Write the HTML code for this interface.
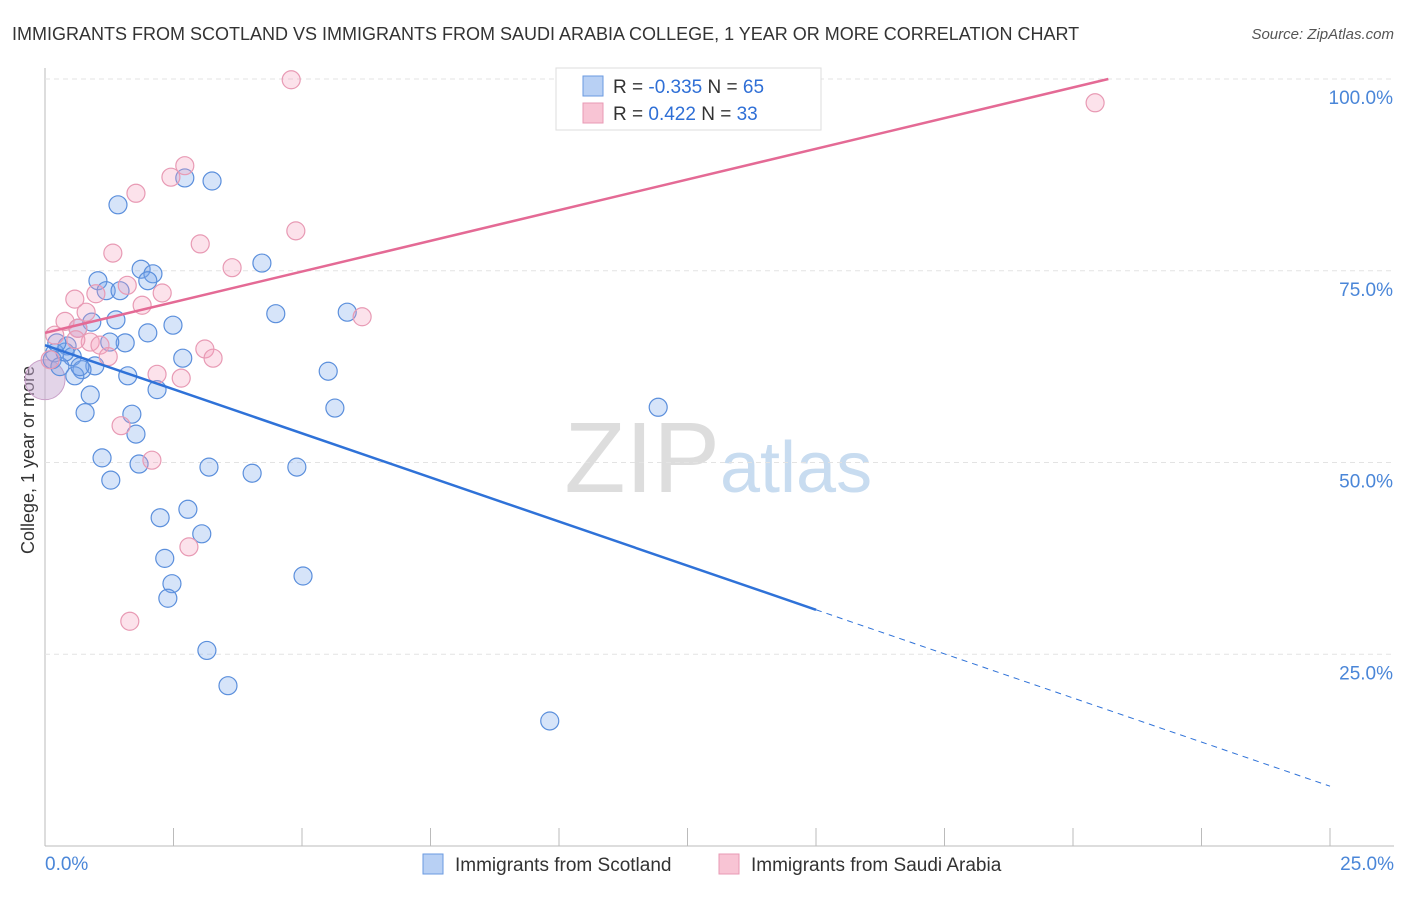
<!DOCTYPE html>
<html><head><meta charset="utf-8"><style>
body{margin:0;background:#fff;font-family:"Liberation Sans",sans-serif;}
svg text{font-family:"Liberation Sans",sans-serif;}
</style></head><body>
<svg id="c" width="1406" height="892">
<text x="12" y="40" font-size="18" fill="#333">IMMIGRANTS FROM SCOTLAND VS IMMIGRANTS FROM SAUDI ARABIA COLLEGE, 1 YEAR OR MORE CORRELATION CHART</text>
<text x="1394" y="39" font-size="15" fill="#555" font-style="italic" text-anchor="end">Source: ZipAtlas.com</text>
<text x="720" y="492" font-size="100" fill="#ddd" text-anchor="end" font-family="Liberation Serif">ZIP</text>
<text x="720" y="492" font-size="72" fill="#c8dcf0">atlas</text>
<text x="34" y="460" font-size="18" fill="#333" text-anchor="middle" transform="rotate(-90 34 460)">College, 1 year or more</text>
<g id="grid"></g><g id="pts"></g><g id="lines"></g>
<g>
<rect x="556" y="68" width="265" height="62" fill="#fff" stroke="#ddd"/>
<rect x="583" y="76" width="20" height="20" fill="#b8d0f4" stroke="#6a9ae0"/>
<rect x="583" y="103" width="20" height="20" fill="#f8c4d4" stroke="#e89ab4"/>
<text x="613" y="93" font-size="19" fill="#333">R = <tspan fill="#2f6fd6">-0.335</tspan>   N = <tspan fill="#2f6fd6">65</tspan></text>
<text x="613" y="120" font-size="19" fill="#333">R =  <tspan fill="#2f6fd6"> 0.422</tspan>   N = <tspan fill="#2f6fd6">33</tspan></text>
</g>
<g>
<rect x="423" y="854" width="20" height="20" fill="#b8d0f4" stroke="#6a9ae0"/>
<text x="455" y="871" font-size="19" fill="#333">Immigrants from Scotland</text>
<rect x="719" y="854" width="20" height="20" fill="#f8c4d4" stroke="#e89ab4"/>
<text x="751" y="871" font-size="19" fill="#333">Immigrants from Saudi Arabia</text>
</g>
</svg>
<script>
const xTicks=[0,2.5,5,7.5,10,12.5,15,17.5,20,22.5,25];
const yTicks=[25,50,75,100];
const yTickLabels=["25.0%","50.0%","75.0%","100.0%"];
const xTickLabels=["0.0%","25.0%"];
const scotX=[1.42,2.72,3.25,4.22,1.87,2.10,2.00,1.03,1.19,1.46,4.49,5.88,2.49,1.38,0.91,2.00,0.64,1.56,1.26,0.43,0.19,0.53,2.68,0.97,0.72,1.61,0.58,5.51,2.18,0.88,1.69,0.78,5.64,11.93,1.77,1.11,1.83,3.19,4.90,4.03,1.28,2.78,2.24,3.05,2.33,2.47,5.02,2.39,3.15,3.56,9.82,0.14,0.29,0.39,0.68,0.23];
const scotY=[83.6,87.1,86.7,76.0,75.2,74.6,73.7,73.7,72.4,72.4,69.4,69.6,67.9,68.6,68.3,66.9,67.5,65.6,65.7,65.2,64.3,63.8,63.6,62.6,62.1,61.3,61.3,61.9,59.5,58.8,56.3,56.5,57.1,57.2,53.7,50.6,49.8,49.4,49.4,48.6,47.7,43.9,42.8,40.7,37.5,34.2,35.2,32.3,25.5,20.9,16.3,63.4,62.5,64.4,62.5,65.6];
const saudiX=[4.79,20.43,2.72,2.45,1.77,4.88,3.02,1.32,3.64,1.60,2.28,0.58,0.99,1.89,0.80,6.17,0.39,0.64,0.19,0.88,1.07,1.23,3.11,3.27,2.18,2.65,1.48,2.08,2.80,1.65,0.10,0.60];
const saudiY=[99.9,96.9,88.7,87.2,85.1,80.2,78.5,77.3,75.4,73.1,72.1,71.3,72.0,70.5,69.6,69.0,68.4,67.5,66.6,65.7,65.3,63.8,64.8,63.6,61.5,61.0,54.8,50.3,39.0,29.3,63.4,66.0];
const trendScot=[65.3,-2.30];
const trendSaudi=[66.9,1.60];
const NS="http://www.w3.org/2000/svg";
const X=v=>45+v/25*1285, Y=v=>846-v/100*767;
function mk(t,a,p){const e=document.createElementNS(NS,t);for(const k in a)e.setAttribute(k,a[k]);document.getElementById(p).appendChild(e);return e;}
mk('line',{x1:45,y1:68,x2:45,y2:846,stroke:'#bbb'},'grid');
mk('line',{x1:45,y1:846,x2:1394,y2:846,stroke:'#bbb'},'grid');
xTicks.forEach(t=>{const l=mk('line',{x1:X(t),y1:828,x2:X(t),y2:846,stroke:'#bbb'},'grid');

});
yTicks.forEach((t,i)=>{const l=mk('line',{x1:45,y1:Y(t),x2:1394,y2:Y(t),stroke:'#e3e3e3','stroke-dasharray':'5,4'},'grid');


const tx=mk('text',{x:1393,y:Y(t)+25,'font-size':19,fill:'#4a86d8','text-anchor':'end'},'grid');tx.textContent=yTickLabels[i];

});
[[0,'start',45],[25,'end',1394]].forEach((d,i)=>{const tx=mk('text',{x:d[2],y:870,'font-size':19,fill:'#4a86d8','text-anchor':d[1]},'grid');tx.textContent=xTickLabels[i];

});
const big=mk('circle',{cx:X(0),cy:Y(60.8),r:20,fill:'rgba(200,170,210,0.5)',stroke:'#c9a0c8'},'pts');


scotX.forEach((v,i)=>{const c=mk('circle',{cx:X(v),cy:Y(scotY[i]),r:9,fill:'rgba(120,165,235,0.3)',stroke:'#5b8fdc','stroke-width':1.2},'pts');

});
saudiX.forEach((v,i)=>{const c=mk('circle',{cx:X(v),cy:Y(saudiY[i]),r:9,fill:'rgba(245,160,190,0.3)',stroke:'#e89ab4','stroke-width':1.2},'pts');

});
const f=(t,x)=>t[0]+t[1]*x;
let l1=mk('line',{x1:X(0),y1:Y(f(trendScot,0)),x2:X(15),y2:Y(f(trendScot,15)),stroke:'#2f72d8','stroke-width':2.5},'lines');


let l2=mk('line',{x1:X(15),y1:Y(f(trendScot,15)),x2:X(25),y2:Y(f(trendScot,25)),stroke:'#2f72d8','stroke-width':1,'stroke-dasharray':'6,5'},'lines');


const xe=(100-trendSaudi[0])/trendSaudi[1];
let l3=mk('line',{x1:X(0),y1:Y(f(trendSaudi,0)),x2:X(xe),y2:Y(100),stroke:'#e46a95','stroke-width':2.5},'lines');


</script>
</body></html>
